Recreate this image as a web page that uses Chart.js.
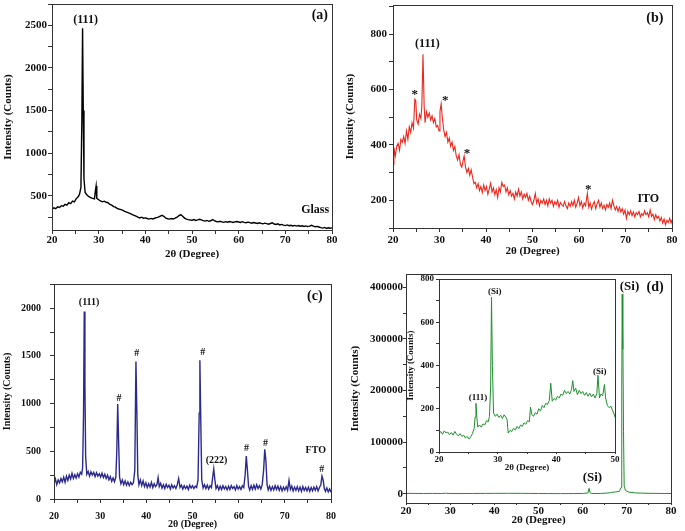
<!DOCTYPE html>
<html>
<head>
<meta charset="utf-8">
<script src="https://cdn.jsdelivr.net/npm/chart.js@4.4.1/dist/chart.umd.min.js"></script>
<style>
  body { margin: 0; background: #fff; width: 685px; height: 531px; position: relative; overflow: hidden; }
  canvas { position: absolute; }
</style>
</head>
<body>
<canvas id="pa"></canvas>
<canvas id="pb"></canvas>
<canvas id="pc"></canvas>
<canvas id="pd"></canvas>
<canvas id="pi"></canvas>
<script>
// 2θ (degree), intensity (counts)
const glass = [
  [20,340],[20.4,360],[20.8,350],[21.2,372],[21.6,365],[22,385],[22.4,378],[22.8,400],[23.2,392],[23.6,420],
  [24,410],[24.4,440],[24.8,430],[25.2,468],[25.6,490],[25.9,520],[26.2,600],[26.4,1400],[26.55,2465],[26.7,1500],
  [26.85,700],[27.1,540],[27.5,510],[27.9,490],[28.3,480],[28.7,470],[29.1,465],[29.3,560],[29.45,615],[29.6,470],
  [30,455],[30.4,440],[30.8,430],[31.2,438],[31.6,425],[32,420],[32.4,400],[32.8,392],[33.2,375],[33.6,368],
  [34,352],[34.4,345],[34.8,338],[35.2,330],[35.6,318],[36,310],[36.4,300],[36.8,292],[37.2,280],[37.6,272],
  [38,262],[38.4,250],[38.8,242],[39.2,250],[39.6,238],[40,242],[40.4,235],[40.8,228],[41.2,236],[41.6,230],
  [42,238],[42.4,245],[42.8,250],[43.2,262],[43.6,272],[44,258],[44.4,240],[44.8,232],[45.2,228],[45.6,235],
  [46,230],[46.4,238],[46.8,250],[47.2,268],[47.6,280],[48,262],[48.4,240],[48.8,228],[49.2,222],[49.6,218],
  [50,215],[50.4,222],[50.8,212],[51.2,218],[51.6,225],[52,218],[52.4,210],[52.8,205],[53.2,212],[53.6,202],
  [54,208],[54.4,222],[54.8,210],[55.2,200],[55.6,195],[56,202],[56.4,196],[56.8,190],[57.2,198],[57.6,192],
  [58,200],[58.4,195],[58.8,188],[59.2,196],[59.6,200],[60,194],[60.4,188],[60.8,198],[61.2,190],[61.6,185],
  [62,192],[62.4,186],[62.8,180],[63.2,188],[63.6,182],[64,176],[64.4,184],[64.8,178],[65.2,172],[65.6,180],
  [66,174],[66.4,168],[66.8,176],[67.2,185],[67.6,170],[68,165],[68.4,172],[68.8,160],[69.2,166],[69.6,158],
  [70,152],[70.4,160],[70.8,150],[71.2,156],[71.6,148],[72,154],[72.4,146],[72.8,152],[73.2,145],[73.6,150],
  [74,142],[74.4,148],[74.8,140],[75.2,146],[75.6,155],[76,145],[76.4,138],[76.8,142],[77.2,135],[77.6,128],
  [78,122],[78.4,130],[78.8,118],[79.2,126],[79.6,120],[80,125]
];

const ito = [
  [20,330],[20.2,390],[20.5,360],[20.8,395],[21.1,405],[21.4,380],[21.7,420],[22,410],[22.3,430],[22.6,405],
  [22.9,450],[23.2,420],[23.5,465],[23.8,445],[24.1,480],[24.4,460],[24.7,565],[24.9,560],[25.1,490],[25.4,475],
  [25.7,510],[26,495],[26.2,540],[26.45,727],[26.7,540],[26.9,480],[27.2,520],[27.5,500],[27.8,515],[28.1,490],
  [28.4,505],[28.7,480],[29,495],[29.3,465],[29.6,470],[29.9,450],[30.1,520],[30.35,548],[30.6,500],[30.9,455],
  [31.2,430],[31.5,445],[31.8,410],[32.1,425],[32.4,395],[32.7,410],[33,380],[33.3,395],[33.6,360],[33.9,345],
  [34.2,365],[34.5,330],[34.8,320],[35.1,345],[35.3,360],[35.6,320],[35.9,300],[36.2,315],[36.5,290],[36.8,310],
  [37.1,285],[37.4,260],[37.7,265],[38,245],[38.3,260],[38.6,235],[38.9,250],[39.2,228],[39.5,255],[39.8,235],
  [40.1,250],[40.4,222],[40.7,240],[41,262],[41.3,230],[41.6,245],[41.9,220],[42.2,238],[42.5,210],[42.8,245],
  [43.1,230],[43.4,265],[43.7,250],[44,255],[44.3,230],[44.6,245],[44.9,220],[45.2,235],[45.5,215],[45.8,225],
  [46.1,205],[46.4,230],[46.7,215],[47,240],[47.3,215],[47.6,230],[47.9,205],[48.2,222],[48.5,210],[48.8,225],
  [49.1,200],[49.4,215],[49.7,195],[50,185],[50.3,200],[50.6,225],[50.9,190],[51.2,205],[51.5,180],[51.8,200],
  [52.1,190],[52.4,205],[52.7,185],[53,200],[53.3,180],[53.6,205],[53.9,190],[54.2,200],[54.5,178],[54.8,195],
  [55.1,185],[55.4,200],[55.7,175],[56,192],[56.3,185],[56.6,178],[56.9,195],[57.2,180],[57.5,170],[57.8,190],
  [58.1,178],[58.4,195],[58.7,180],[59,200],[59.3,175],[59.6,190],[59.9,210],[60.2,180],[60.5,195],[60.8,172],
  [61.1,190],[61.4,180],[61.8,225],[62.1,175],[62.4,190],[62.7,168],[63,185],[63.3,195],[63.6,170],[63.9,188],
  [64.2,200],[64.5,175],[64.8,190],[65.1,170],[65.4,182],[65.7,165],[66,185],[66.3,175],[66.6,190],[66.9,170],
  [67.2,200],[67.5,180],[67.8,165],[68.1,178],[68.4,160],[68.7,175],[69,158],[69.3,170],[69.6,150],[69.9,165],
  [70.2,135],[70.5,160],[70.8,148],[71.1,162],[71.4,145],[71.7,158],[72,140],[72.3,155],[72.6,148],[72.9,160],
  [73.2,140],[73.5,152],[73.8,145],[74.1,162],[74.4,148],[74.7,155],[75,140],[75.3,165],[75.6,142],[75.9,150],
  [76.2,130],[76.5,148],[76.8,135],[77.1,142],[77.4,125],[77.7,138],[78,118],[78.3,132],[78.6,112],[78.9,128],
  [79.2,120],[79.5,135],[79.8,118],[80,130]
];

const fto = [
  [20,160],[20.3,210],[20.6,150],[20.9,200],[21.2,170],[21.5,215],[21.8,180],[22.1,230],[22.4,175],[22.7,240],
  [23,195],[23.3,250],[23.6,210],[23.9,270],[24.2,215],[24.5,255],[24.8,220],[25.1,265],[25.4,230],[25.7,280],
  [26,260],[26.2,330],[26.4,900],[26.55,1965],[26.7,1200],[26.85,450],[27.1,260],[27.4,290],[27.7,240],[28,285],
  [28.3,250],[28.6,280],[28.9,235],[29.2,275],[29.5,240],[29.8,265],[30.1,230],[30.4,270],[30.7,225],[31,260],
  [31.3,215],[31.6,250],[31.9,200],[32.2,235],[32.5,185],[32.8,220],[33.1,180],[33.4,230],[33.6,500],[33.8,995],
  [34,600],[34.2,230],[34.5,160],[34.8,200],[35.1,150],[35.4,190],[35.7,145],[36,180],[36.3,140],[36.6,175],
  [36.9,150],[37.2,170],[37.5,300],[37.75,1440],[37.95,900],[38.15,250],[38.4,150],[38.7,200],[39,140],[39.3,190],
  [39.6,130],[39.9,170],[40.2,120],[40.5,160],[40.8,125],[41.1,175],[41.4,120],[41.7,160],[42,130],[42.3,150],
  [42.55,225],[42.8,130],[43.1,165],[43.4,115],[43.7,150],[44,110],[44.3,155],[44.6,120],[44.9,145],[45.2,105],
  [45.5,150],[45.8,115],[46.1,140],[46.4,110],[46.7,150],[47,215],[47.3,120],[47.6,145],[47.9,105],[48.2,140],
  [48.5,110],[48.8,135],[49.1,100],[49.4,145],[49.7,115],[50,140],[50.3,110],[50.6,135],[50.9,120],[51.2,200],
  [51.45,900],[51.6,1455],[51.8,800],[52,200],[52.3,115],[52.6,150],[52.9,110],[53.2,145],[53.5,105],[53.8,140],
  [54.1,120],[54.35,220],[54.6,315],[54.85,200],[55.1,110],[55.4,140],[55.7,95],[56,135],[56.3,100],[56.6,140],
  [56.9,105],[57.2,130],[57.5,95],[57.8,135],[58.1,100],[58.4,140],[58.7,110],[59,130],[59.3,95],[59.6,140],
  [59.9,105],[60.2,130],[60.5,100],[60.8,140],[61.1,120],[61.4,250],[61.65,450],[61.9,300],[62.15,130],[62.4,95],
  [62.7,140],[63,100],[63.3,145],[63.6,105],[63.9,150],[64.2,110],[64.5,140],[64.8,105],[65.1,150],[65.4,300],
  [65.65,520],[65.9,400],[66.15,150],[66.4,95],[66.7,135],[67,90],[67.3,130],[67.6,95],[67.9,140],[68.2,100],
  [68.5,135],[68.8,90],[69.1,130],[69.4,85],[69.7,125],[70,95],[70.3,130],[70.6,90],[70.9,195],[71.2,100],
  [71.5,135],[71.8,85],[72.1,125],[72.4,90],[72.7,130],[73,85],[73.3,125],[73.6,80],[73.9,130],[74.2,90],
  [74.5,120],[74.8,85],[75.1,125],[75.4,80],[75.7,120],[76,85],[76.3,125],[76.6,90],[76.9,130],[77.2,85],
  [77.5,120],[77.8,150],[78.05,240],[78.3,200],[78.55,110],[78.8,80],[79.1,115],[79.4,75],[79.7,105],[80,70]
];

const si = [
  [20,800],[22,500],[24,400],[26,600],[28,400],[29,900],[30,400],[32,300],[35,500],[38,600],
  [40,700],[43,800],[46,700],[48,600],[50,400],[52,300],[55,200],[58,300],[60,500],[61.2,1500],
  [61.45,10500],[61.7,1500],[62,400],[64,500],[66,1500],[66.5,2500],[67.5,3500],[68.3,4500],[68.7,12000],[68.85,200000],
  [68.95,387000],[69.05,280000],[69.12,315000],[69.25,120000],[69.4,15000],[69.7,6000],[70.5,3000],[72,1500],[75,800],[78,500],
  [80,400]
];

const siInset = [
  [20,85],[20.3,95],[20.6,82],[20.9,98],[21.2,88],[21.5,92],[21.8,80],[22.1,90],[22.4,78],[22.7,95],
  [23,82],[23.3,75],[23.6,85],[23.9,72],[24.2,78],[24.5,65],[24.8,72],[25.1,60],[25.4,70],[25.7,85],
  [26,110],[26.15,160],[26.3,225],[26.45,160],[26.6,115],[26.9,125],[27.2,115],[27.5,130],[27.8,125],[28.1,145],
  [28.4,140],[28.6,165],[28.8,300],[28.95,716],[29.1,400],[29.3,180],[29.6,165],[29.9,175],[30.2,160],[30.5,170],
  [30.8,155],[31.1,172],[31.4,160],[31.6,150],[31.8,88],[32.1,100],[32.4,95],[32.7,110],[33,102],[33.3,118],
  [33.6,108],[33.9,125],[34.2,118],[34.5,135],[34.8,128],[35.1,145],[35.4,140],[35.6,208],[35.8,175],[36.1,165],
  [36.4,182],[36.7,175],[37,200],[37.3,190],[37.6,215],[37.9,205],[38.2,225],[38.5,220],[38.8,238],[39.05,318],
  [39.3,235],[39.6,248],[39.9,240],[40.2,258],[40.5,250],[40.8,268],[41.1,262],[41.4,285],[41.7,270],[42,280],
  [42.3,268],[42.6,290],[42.8,330],[43,280],[43.3,295],[43.6,265],[43.9,285],[44.2,270],[44.5,280],[44.8,262],
  [45.1,275],[45.4,258],[45.7,272],[46,255],[46.3,268],[46.6,250],[46.9,270],[47.1,355],[47.35,250],[47.6,268],
  [47.9,260],[48.2,312],[48.4,250],[48.7,215],[49,205],[49.3,212],[49.6,190],[49.8,180],[50,160]
];

// peak labels: text, 2θ, counts, font size
const notesA = [['(111)', 27.2, 2562, 12], ['(a)', 77.4, 2620, 14], ['Glass', 76.4, 334, 12]];
const notesB = [['(111)', 27.4, 763, 12], ['*', 24.7, 580, 13], ['*', 31.25, 560, 13], ['*', 35.9, 367, 13],
  ['*', 62.0, 237, 13], ['ITO', 74.9, 204, 12], ['(b)', 76.3, 858, 14]];
const notesC = [['(111)', 27.6, 2055, 10], ['#', 34.1, 1055, 10], ['#', 37.9, 1526, 10], ['#', 52.2, 1533, 10],
  ['(222)', 55.2, 400, 10], ['#', 61.7, 529, 10], ['#', 65.8, 587, 10], ['FTO', 76.7, 512, 10],
  ['#', 77.98, 314, 10], ['(c)', 76.5, 2123, 14]];
const notesD = [['(Si)', 70.6, 401000, 13], ['(d)', 76.4, 401000, 14], ['(Si)', 62.2, 31800, 13]];
const notesI = [['(111)', 26.66, 250, 9], ['(Si)', 29.5, 742, 9], ['(Si)', 47.4, 371, 9]];

const SERIF = "'Liberation Serif', 'Times New Roman', serif";
const AXIS = '#333';

function framePlugin(notes) {
  return {
    id: 'frame',
    afterDraw(chart) {
      const { ctx, chartArea: a, scales } = chart;
      ctx.save();
      ctx.strokeStyle = AXIS;
      ctx.lineWidth = 1;
      ctx.strokeRect(Math.round(a.left) + 0.5, Math.round(a.top) + 0.5,
        Math.round(a.right - a.left), Math.round(a.bottom - a.top));
      ctx.fillStyle = '#111';
      ctx.textAlign = 'center';
      ctx.textBaseline = 'middle';
      notes.forEach(n => {
        ctx.font = 'bold ' + n[3] + 'px ' + SERIF;
        ctx.fillText(n[0], scales.x.getPixelForValue(n[1]), scales.y.getPixelForValue(n[2]));
      });
      ctx.restore();
    }
  };
}

// major ticks get a label, the minor ones in between only a tick mark
function tickList(min, max, major) {
  const step = major / 2, out = [];
  for (let v = Math.ceil(min / step) * step; v <= max; v += step) out.push({ value: v });
  return out;
}

function makePanel(id, box, pts, color, cfg) {
  const el = document.getElementById(id);
  const left = box.l - cfg.yW, top = box.t - cfg.padT;
  el.width = box.r + cfg.padR - left;
  el.height = box.b + cfg.xH - top;
  el.style.left = left + 'px';
  el.style.top = top + 'px';

  const label = major => v => (Math.abs(v % major) < 1e-6 ? String(v) : '');

  return new Chart(el, {
    type: 'line',
    data: {
      datasets: [{
        data: pts.map(p => ({ x: p[0], y: p[1] })),
        borderColor: color,
        borderWidth: cfg.lw || 1,
        pointRadius: 0,
        tension: 0,
        fill: false
      }]
    },
    options: {
      responsive: false,
      devicePixelRatio: 1,
      animation: false,
      layout: { padding: { top: cfg.padT, right: cfg.padR, left: 0, bottom: 0 } },
      plugins: { legend: { display: false }, tooltip: { enabled: false } },
      scales: {
        x: {
          type: 'linear',
          min: cfg.x[0], max: cfg.x[1],
          afterBuildTicks: s => { s.ticks = tickList(cfg.x[0], cfg.x[1], cfg.x[2]); },
          afterFit: s => { s.height = cfg.xH; },
          border: { display: true, color: AXIS, width: 1 },
          grid: { drawOnChartArea: false, drawTicks: true, tickLength: cfg.xTick[0], color: AXIS },
          ticks: {
            autoSkip: false, maxRotation: 0,
            padding: cfg.xTick[1], color: '#111',
            font: { family: SERIF, weight: 'bold', size: cfg.tickFont },
            callback: label(cfg.x[2])
          },
          title: {
            display: true, text: '2θ (Degree)', color: '#111', padding: { top: 0, bottom: 0 },
            font: { family: SERIF, weight: 'bold', size: cfg.titleFont }
          }
        },
        y: {
          min: cfg.y[0], max: cfg.y[1],
          afterBuildTicks: s => { s.ticks = tickList(cfg.y[0], cfg.y[1], cfg.y[2]); },
          afterFit: s => { s.width = cfg.yW; },
          border: { display: true, color: AXIS, width: 1 },
          grid: { drawOnChartArea: false, drawTicks: true, tickLength: cfg.yTick[0], color: AXIS },
          ticks: {
            autoSkip: false,
            padding: cfg.yTick[1], color: '#111',
            font: { family: SERIF, weight: 'bold', size: cfg.tickFont },
            callback: label(cfg.y[2])
          },
          title: {
            display: true, text: 'Intensity (Counts)', color: '#111', padding: { top: cfg.yTitlePad, bottom: 0 },
            font: { family: SERIF, weight: 'bold', size: cfg.titleFont }
          }
        }
      }
    },
    plugins: [framePlugin(cfg.notes)]
  });
}

makePanel('pa', { l: 52, t: 4, r: 332, b: 230 }, glass, '#000', {
  yW: 52, xH: 31, padT: 10, padR: 14, x: [20, 80, 10], y: [100, 2750, 500],
  xTick: [4, 0], yTick: [4, 1], tickFont: 11, titleFont: 11, yTitlePad: 1.5, lw: 1.4, notes: notesA
});

makePanel('pb', { l: 393, t: 5, r: 672, b: 228 }, ito, '#e8281e', {
  yW: 51, xH: 30, padT: 10, padR: 13, x: [20, 80, 10], y: [100, 905, 200],
  xTick: [4, 2], yTick: [4, 2], tickFont: 11, titleFont: 11, yTitlePad: 1.4, lw: 1.1, notes: notesB
});

makePanel('pc', { l: 54, t: 279, r: 331, b: 499 }, fto, '#2c2a8c', {
  yW: 54, xH: 31, padT: 10, padR: 12, x: [20, 80, 10], y: [0, 2253, 500],
  xTick: [4, 7], yTick: [4, 9], tickFont: 10, titleFont: 10, yTitlePad: 1.3, lw: 1.4, notes: notesC
});

makePanel('pd', { l: 406, t: 274, r: 671, b: 503 }, si, '#1f8f2e', {
  yW: 60, xH: 24, padT: 10, padR: 13, x: [20, 80, 10], y: [-18000, 426000, 100000],
  xTick: [2, 0], yTick: [3, 0], tickFont: 11, titleFont: 11, yTitlePad: 2.4, lw: 1, notes: notesD
});

makePanel('pi', { l: 439, t: 279, r: 615, b: 452 }, siInset, '#1f8f2e', {
  yW: 34, xH: 21, padT: 10, padR: 8, x: [20, 50, 10], y: [0, 800, 200],
  xTick: [2, 0], yTick: [3, 2], tickFont: 9, titleFont: 9, yTitlePad: 0.6, lw: 1, notes: notesI
});
</script>
</body>
</html>
